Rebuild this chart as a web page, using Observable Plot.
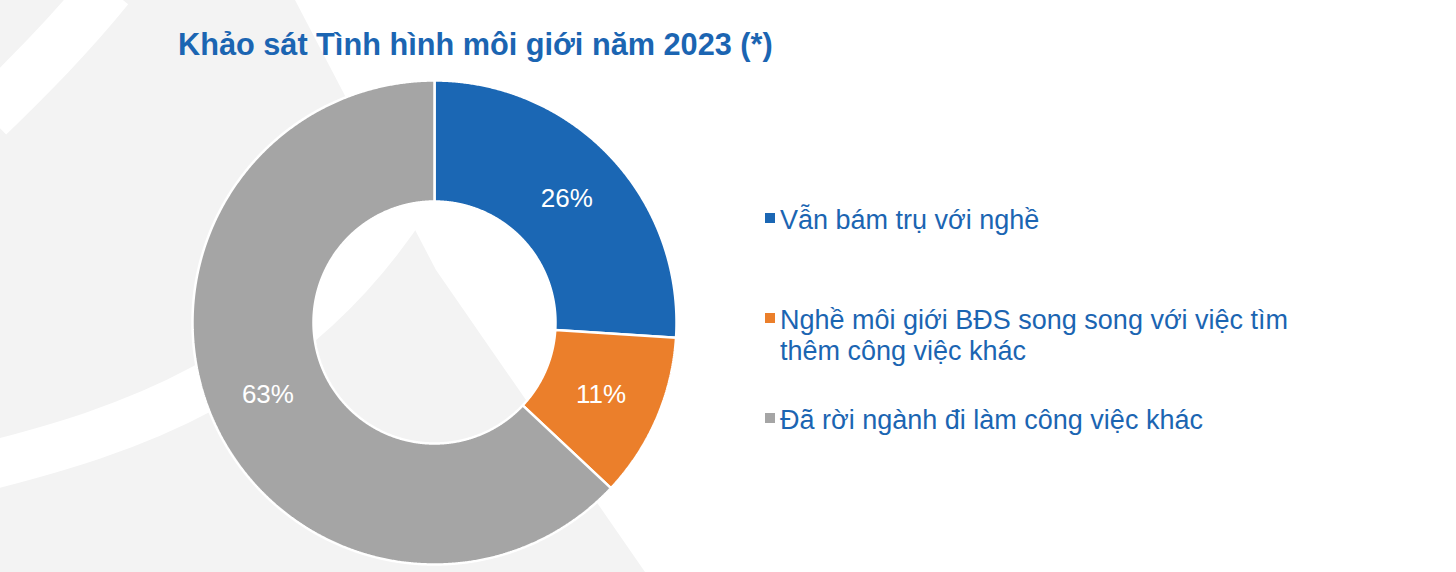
<!DOCTYPE html>
<html>
<head>
<meta charset="utf-8">
<script src="https://cdn.jsdelivr.net/npm/d3@7"></script>
<script src="https://cdn.jsdelivr.net/npm/@observablehq/plot@0.6"></script>
<style>
  html, body { margin: 0; padding: 0; background: #fff; }
  #wrap { position: relative; width: 1456px; height: 572px; overflow: hidden; font-family: "Liberation Sans", Arial, sans-serif; }
  #bg { position: absolute; left: 0; top: 0; }
  #chart { position: absolute; left: 0; top: 0; }
  #title { position: absolute; left: 178px; top: 30px; font-size: 30.7px; line-height: 30px; font-weight: bold; color: #1B65B2; white-space: nowrap; }
  .item { position: absolute; left: 765px; font-size: 27px; line-height: 30.5px; color: #1B65B2; }
  .item .sw { position: absolute; left: 0; width: 9.5px; height: 9.5px; }
  .item .tx { position: absolute; left: 15px; white-space: nowrap; }
</style>
</head>
<body>
<div id="wrap">
  <svg id="bg" width="1456" height="572">
    <path d="M0,0 H295 L436,270 L645,572 H0 Z" fill="#f3f3f3"/>
    <path d="M-12,116 C30,75 70,35 108,-12" stroke="#fff" stroke-width="52" fill="none"/>
    <path d="M-12,466 C120,432 290,382 408,198" stroke="#fff" stroke-width="48" fill="none"/>
  </svg>
  <div id="chart"></div>
  <div id="title"></div>
  <div id="legend"></div>
</div>
<script>
// ---- data ----
const title = "Khảo sát Tình hình môi giới năm 2023 (*)";
const categories = [
  "Vẫn bám trụ với nghề",
  "Nghề môi giới BĐS song song với việc tìm thêm công việc khác",
  "Đã rời ngành đi làm công việc khác"
];
const legendLines = [
  ["Vẫn bám trụ với nghề"],
  ["Nghề môi giới BĐS song song với việc tìm", "thêm công việc khác"],
  ["Đã rời ngành đi làm công việc khác"]
];
const values = [26, 11, 63];
const valueLabels = ["26%", "11%", "63%"];
const colors = ["#1B67B4", "#EB7F2B", "#A5A5A5"];

// ---- geometry (unit circle, built from the data) ----
const innerR = 0.5, outerR = 1, labelR = 0.75;
const arcs = d3.pie().sort(null).value(d => d.value)(
  categories.map((c, i) => ({cat: c, value: values[i], label: valueLabels[i]}))
);
const pts = [];
const lbls = [];
for (const s of arcs) {
  const n = Math.max(8, Math.ceil((s.endAngle - s.startAngle) / 0.005));
  const ring = [];
  for (let k = 0; k <= n; k++) {
    const a = s.startAngle + (s.endAngle - s.startAngle) * k / n;
    ring.push({x: outerR * Math.sin(a), y: outerR * Math.cos(a), cat: s.data.cat});
  }
  for (let k = n; k >= 0; k--) {
    const a = s.startAngle + (s.endAngle - s.startAngle) * k / n;
    ring.push({x: innerR * Math.sin(a), y: innerR * Math.cos(a), cat: s.data.cat});
  }
  ring.push({...ring[0]});
  pts.push(...ring);
  const m = (s.startAngle + s.endAngle) / 2;
  lbls.push({x: labelR * Math.sin(m), y: labelR * Math.cos(m), text: s.data.label});
}

const chart = Plot.plot({
  width: 1456,
  height: 572,
  marginLeft: 192,
  marginRight: 780,
  marginTop: 80,
  marginBottom: 8,
  x: {domain: [-1, 1], axis: null},
  y: {domain: [-1, 1], axis: null},
  color: {domain: categories, range: colors},
  style: {background: "transparent", overflow: "visible"},
  marks: [
    Plot.line(pts, {x: "x", y: "y", z: "cat", fill: "cat", stroke: "white", strokeWidth: 2.5, strokeLinejoin: "miter"}),
    Plot.text(lbls, {x: "x", y: "y", text: "text", fill: "white", fontSize: 26, fontFamily: "Liberation Sans, Arial, sans-serif"})
  ]
});
document.getElementById("chart").appendChild(chart);
document.getElementById("title").textContent = title;

// ---- legend ----
const legendTops = [205, 305, 405];
const legend = document.getElementById("legend");
categories.forEach((c, i) => {
  const item = document.createElement("div");
  item.className = "item";
  item.style.top = legendTops[i] + "px";
  const sw = document.createElement("div");
  sw.className = "sw";
  sw.style.background = colors[i];
  sw.style.top = "8px";
  const tx = document.createElement("div");
  tx.className = "tx";
  tx.innerHTML = legendLines[i].join("<br>");
  item.appendChild(sw);
  item.appendChild(tx);
  legend.appendChild(item);
});
</script>
</body>
</html>
